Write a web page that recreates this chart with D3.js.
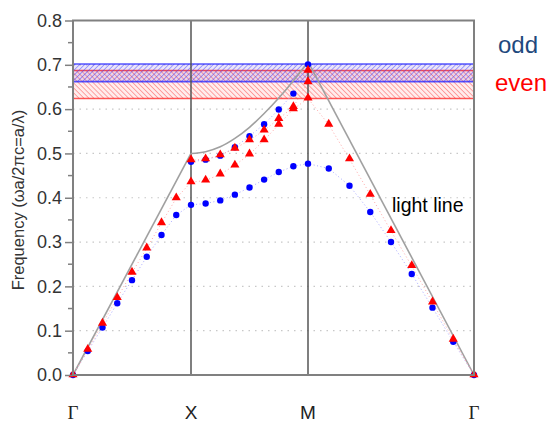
<!DOCTYPE html>
<html><head><meta charset="utf-8">
<script src="https://cdn.jsdelivr.net/npm/d3@7"></script>
<style>body{margin:0;background:#fff}svg{display:block}text{font-family:"Liberation Sans",Arial,sans-serif}</style>
</head><body><svg id="c" width="555" height="424"></svg>
<script>
// path index: 0=Γ, 8=X, 16=M, 24=Γ
const symIdx = [0, 8, 16, 24];
const symLabels = ["Γ", "X", "M", "Γ"];
const yTicks = [0.0, 0.1, 0.2, 0.3, 0.4, 0.5, 0.6, 0.7, 0.8];
const idxAll = [0,1,2,3,4,5,6,7,8,9,10,11,12,13,14,15,16,17,18,19,20,21,22,23,24];
const oddLower = [0,0.054,0.107,0.162,0.214,0.267,0.316,0.361,0.384,0.387,0.394,0.407,0.423,0.441,0.458,0.471,0.477,0.466,0.427,0.368,0.300,0.228,0.152,0.075,0];
const evenLower = [0,0.057,0.116,0.174,0.231,0.286,0.343,0.399,0.435,0.439,0.453,0.473,0.498,0.530,0.565,0.600,0.624,0.565,0.487,0.407,0.325,0.246,0.164,0.080,0];
const idxXM = [8,9,10,11,12,13,14,15,16];
const oddUpper = [0.481,0.486,0.495,0.514,0.539,0.566,0.599,0.635,0.701];
const evenUpper = [0.485,0.487,0.496,0.511,0.530,0.552,0.578,0.605,0.661];
const evenExtraIdx = [16];
const evenExtra = [0.687];
const lightIdx = [0,8,9,10,11,12,13,14,15,16,24];
const lightVal = [0,0.5,0.504,0.515,0.534,0.559,0.590,0.625,0.664,0.707,0];
const oddGap = [0.662, 0.702];
const evenGap = [0.624, 0.687];

const svg = d3.select("#c");
const x = d3.scaleLinear().domain(symIdx).range([73, 191, 308, 474]);
const y = d3.scaleLinear().domain([0, 0.8]).range([375, 20.5]);
const L = 73, R = 474;

// patterns
const defs = svg.append("defs");
function hatch(id, color, angle, op) {
  const p = defs.append("pattern").attr("id", id).attr("patternUnits", "userSpaceOnUse")
    .attr("width", 3.5).attr("height", 3.5).attr("patternTransform", `rotate(${angle})`);
  p.append("line").attr("x1", 0).attr("y1", 0).attr("x2", 0).attr("y2", 3.5)
    .attr("stroke", color).attr("stroke-width", 1.6).attr("stroke-opacity", op);
}
hatch("hb", "#3030ff", 45, 0.5);
hatch("hr", "#ff3030", -45, 0.5);

// grid
svg.append("g").selectAll("line").data(yTicks.filter(t => t > 0 && t < 0.8)).join("line")
  .attr("x1", L).attr("x2", R).attr("y1", d => y(d)).attr("y2", d => y(d))
  .attr("stroke", "#c8c8c8").attr("stroke-width", 1.2).attr("stroke-dasharray", "1.5,5");

// bands
function band(g, pat, color, tint) {
  svg.append("rect").attr("x", L).attr("width", R - L).attr("y", y(g[1])).attr("height", y(g[0]) - y(g[1]))
    .attr("fill", tint);
  svg.append("rect").attr("x", L).attr("width", R - L).attr("y", y(g[1])).attr("height", y(g[0]) - y(g[1]))
    .attr("fill", `url(#${pat})`);
  svg.append("g").selectAll("line").data(g).join("line")
    .attr("x1", L).attr("x2", R).attr("y1", d => y(d)).attr("y2", d => y(d))
    .attr("stroke", color).attr("stroke-width", 1.6).attr("stroke-opacity", 0.75);
}
band(evenGap, "hr", "#ff2020", "rgba(255,0,0,0.07)");
band(oddGap, "hb", "#2020ff", "rgba(60,0,200,0.1)");

// vertical symmetry lines
svg.append("g").selectAll("line").data(symIdx.slice(1, 3)).join("line")
  .attr("x1", d => x(d)).attr("x2", d => x(d)).attr("y1", y(0)).attr("y2", y(0.8))
  .attr("stroke", "#555").attr("stroke-width", 1.5);

// light line
const lpts = lightIdx.map((d, i) => [d, lightVal[i]]);
const ln = d3.line().x(d => x(d[0])).y(d => y(d[1]));
const lnC = d3.line().x(d => x(d[0])).y(d => y(d[1])).curve(d3.curveMonotoneX);
svg.append("path").attr("d", ln(lpts.slice(0, 2))).attr("fill", "none").attr("stroke", "#a0a0a0").attr("stroke-width", 1.6);
svg.append("path").attr("d", lnC(lpts.slice(1, 10))).attr("fill", "none").attr("stroke", "#a0a0a0").attr("stroke-width", 1.6);
svg.append("path").attr("d", ln(lpts.slice(9))).attr("fill", "none").attr("stroke", "#a0a0a0").attr("stroke-width", 1.6);

// dotted series lines
function dline(idx, vals, color) {
  svg.append("path").attr("d", ln(idx.map((d, i) => [d, vals[i]])))
    .attr("fill", "none").attr("stroke", color).attr("stroke-width", 1).attr("stroke-dasharray", "1,2.5");
}
dline(idxAll, oddLower, "#a8a8ff");
dline(idxXM, oddUpper, "#a8a8ff");
dline(idxAll, evenLower, "#ffa8a8");
dline(idxXM, evenUpper, "#ffa8a8");

// markers
function dots(idx, vals) {
  svg.append("g").selectAll("circle").data(idx.map((d, i) => [d, vals[i]])).join("circle")
    .attr("cx", d => x(d[0])).attr("cy", d => y(d[1])).attr("r", 3.2).attr("fill", "#0000ff");
}
function tris(idx, vals) {
  const s = d3.symbol().type(d3.symbolTriangle).size(36);
  svg.append("g").selectAll("path").data(idx.map((d, i) => [d, vals[i]])).join("path")
    .attr("transform", d => `translate(${x(d[0])},${y(d[1]) - 0.5})`).attr("d", s).attr("fill", "#ff0000");
}
dots(idxAll, oddLower);
dots(idxXM, oddUpper);
tris(idxAll, evenLower);
tris(idxXM, evenUpper);
tris(evenExtraIdx, evenExtra);

// frame
const fr = svg.append("g").attr("stroke", "#808080").attr("stroke-width", 2).attr("fill", "none");
fr.append("path").attr("d", `M${L},${y(0.8)}H${R}V${y(0)}H${L}Z`);

// y axis
const yAxis = d3.axisLeft(y).tickValues(yTicks).tickFormat(d3.format(".1f")).tickSize(8).tickPadding(3);
const ga = svg.append("g").attr("transform", `translate(${L},0)`).call(yAxis);
ga.select(".domain").remove();
ga.selectAll(".tick line").attr("stroke", "#808080").attr("stroke-width", 1.5);
ga.selectAll(".tick text").attr("fill", "#333").style("font-size", "18px");
const minor = d3.range(1, 16, 2).map(i => i * 0.05);
svg.append("g").selectAll("line").data(minor).join("line")
  .attr("x1", L - 5).attr("x2", L).attr("y1", d => y(d)).attr("y2", d => y(d))
  .attr("stroke", "#808080").attr("stroke-width", 1.5);

svg.append("text").attr("transform", `translate(24,200) rotate(-90)`)
  .attr("text-anchor", "middle").attr("fill", "#333").style("font-size", "16.5px")
  .text("Frequency (ωa/2πc=a/λ)");

// x labels
svg.append("g").selectAll("text").data(symIdx).join("text")
  .attr("x", d => x(d)).attr("y", 419).attr("text-anchor", "middle").attr("fill", "#222")
  .style("font-size", "19px")
  .style("font-family", (d, i) => symLabels[i] === "Γ" ? "'Liberation Serif','Times New Roman',serif" : null)
  .text((d, i) => symLabels[i]);

// annotations & legend
svg.append("text").attr("x", 392).attr("y", 212).attr("fill", "#000").style("font-size", "19.5px").text("light line");
svg.append("text").attr("x", 498).attr("y", 53).attr("fill", "#1f497d").style("font-size", "24px").text("odd");
svg.append("text").attr("x", 495).attr("y", 91).attr("fill", "#ff0000").style("font-size", "24px").text("even");
</script></body></html>
